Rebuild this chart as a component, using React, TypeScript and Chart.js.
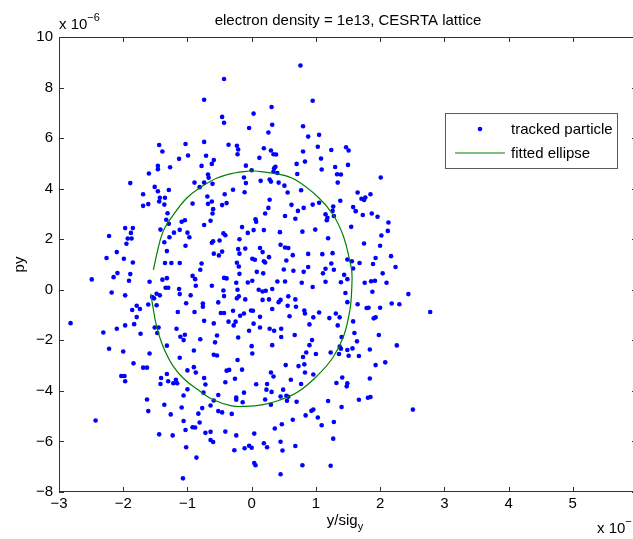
import React, { useEffect, useRef } from "react";
import { Chart, registerables } from "chart.js";

Chart.register(...registerables);

// ---- axis ranges (x in units of the bottom-right exponent, y in units of 1e-6) ----
const X_MIN = -3;
const X_MAX = 6;
const X_STEP = 1;
const Y_MIN = -8;
const Y_MAX = 10;
const Y_STEP = 2;

const titleText = "electron density = 1e13, CESRTA lattice";
const xLabelMain = "y/sig";
const xLabelSub = "y";
const yLabelText = "py";
const yExponent = "\u22126";
const xExponent = "\u2212";
const legendLabels = ["tracked particle", "fitted ellipse"];

// ---- tracked particles, [y/sig_y, py] ----
const upperLeft: [number, number][] = [
  [-0.43, 8.34], [-0.74, 7.52], [-0.46, 6.84], [-0.43, 6.61], [-0.04, 6.40], [-1.44, 5.73],
  [-1.03, 5.77], [-0.74, 5.85], [-0.36, 5.74], [-0.23, 5.70], [-1.39, 5.47], [-0.99, 5.31],
  [-0.71, 5.30], [-0.21, 5.55], [-0.22, 5.36], [-1.13, 5.18], [-0.59, 5.13], [-0.62, 4.98],
  [-1.46, 4.90], [-1.46, 4.77], [-1.27, 4.85], [-0.78, 4.90], [-0.09, 4.91], [-1.60, 4.60],
  [-0.68, 4.56], [-0.67, 4.43], [-0.12, 4.44], [-1.89, 4.22], [-0.89, 4.24], [-0.74, 4.24],
  [-0.61, 4.19], [-0.09, 4.22], [-1.51, 4.07], [-0.81, 4.06], [-1.46, 3.90], [-1.29, 3.95],
  [-1.69, 3.78], [-1.43, 3.64], [-1.35, 3.64], [-0.69, 3.69], [-0.29, 3.96], [-0.11, 3.86],
  [-1.44, 3.49], [-1.36, 3.37], [-0.62, 3.49], [-0.42, 3.78], [-1.69, 3.32], [-1.61, 3.39],
  [-0.92, 3.41], [-0.68, 3.40], [-0.46, 3.35], [-0.39, 3.43], [-0.60, 3.19], [-1.31, 3.03],
  [-0.61, 3.02], [-1.33, 2.77], [-1.04, 2.75], [-1.09, 2.69], [-0.64, 2.73], [-1.29, 2.61],
  [-0.74, 2.56], [-1.97, 2.44], [-1.85, 2.44], [-1.42, 2.38], [-1.12, 2.37], [-0.15, 2.48],
  [-2.22, 2.13], [-1.88, 2.25], [-1.21, 2.26], [-1.00, 2.26], [-0.44, 2.23], [-0.06, 2.25],
  [-1.93, 2.03], [-1.87, 2.03], [-1.28, 2.08], [-0.97, 2.08], [-0.41, 2.16], [-0.19, 2.00],
  [-1.95, 1.82], [-1.36, 1.88], [-0.62, 1.86], [-0.60, 1.92], [-0.50, 1.95], [-1.03, 1.74],
  [-0.21, 1.61], [-0.10, 1.63], [-2.10, 1.49], [-1.32, 1.53], [-0.59, 1.43], [-0.46, 1.51],
  [-0.51, 1.36], [-0.19, 1.43], [-2.26, 1.26], [-1.99, 1.23], [-1.85, 1.08], [-1.35, 1.06],
  [-1.25, 1.06], [-1.12, 1.06], [-0.78, 1.04], [-0.23, 1.07], [-0.20, 0.92], [-0.80, 0.79],
  [-2.09, 0.66], [-1.89, 0.62], [-0.19, 0.63],
];

const upperRight: [number, number][] = [
  [0.76, 8.87], [0.95, 7.48], [0.31, 7.23], [0.03, 6.97], [0.32, 6.53], [0.26, 6.22],
  [0.80, 6.47], [0.88, 6.06], [1.05, 6.13], [0.19, 5.60], [0.30, 5.51], [0.34, 5.36],
  [0.38, 5.35], [1.03, 5.66], [1.24, 5.53], [1.47, 5.64], [1.51, 5.51], [0.80, 5.47],
  [0.12, 5.22], [0.83, 5.07], [1.08, 5.19], [0.70, 4.98], [0.37, 4.87], [0.35, 4.81],
  [0.00, 4.73], [1.09, 4.76], [1.30, 4.86], [1.50, 4.94], [0.34, 4.68], [0.40, 4.62],
  [0.71, 4.58], [1.33, 4.57], [1.39, 4.56], [2.01, 4.44], [0.14, 4.31], [0.28, 4.36],
  [0.30, 4.28], [0.42, 4.24], [0.51, 4.12], [1.34, 4.24], [0.56, 3.85], [0.77, 3.94],
  [1.65, 3.85], [1.85, 3.78], [0.28, 3.56], [0.62, 3.36], [0.95, 3.37], [1.05, 3.44],
  [1.38, 3.52], [1.71, 3.60], [1.75, 3.55], [1.77, 3.65], [0.26, 3.24], [0.72, 3.12],
  [0.81, 3.24], [1.27, 3.29], [1.58, 3.27], [1.62, 3.11], [0.21, 3.02], [0.52, 2.92],
  [1.15, 2.99], [1.26, 3.12], [1.28, 2.92], [1.73, 2.96], [1.87, 3.02], [1.96, 2.89],
  [0.06, 2.79], [0.07, 2.69], [0.68, 2.81], [1.18, 2.85], [1.17, 2.75], [2.13, 2.66],
  [0.03, 2.36], [0.19, 2.36], [0.44, 2.28], [0.79, 2.30], [0.99, 2.38], [1.55, 2.49],
  [2.12, 2.33], [2.02, 2.15], [1.19, 2.04], [0.45, 1.78], [0.52, 1.67], [0.57, 1.65],
  [1.75, 1.83], [2.00, 1.74], [0.13, 1.65], [0.17, 1.49], [0.64, 1.37], [0.88, 1.42],
  [1.10, 1.41], [1.26, 1.45], [2.17, 1.33], [1.93, 1.26], [0.01, 1.23], [0.05, 1.19],
  [0.19, 1.13], [0.21, 1.08], [0.27, 1.29], [0.54, 1.16], [1.49, 1.20], [1.56, 1.13],
  [1.68, 1.06], [1.89, 1.02], [1.24, 1.04], [0.88, 0.90], [0.50, 0.80], [0.65, 0.75],
  [0.81, 0.71], [1.15, 0.83], [1.28, 0.79], [1.58, 0.84], [2.24, 0.90], [2.04, 0.65],
  [0.08, 0.71], [0.18, 0.65], [1.11, 0.65], [1.44, 0.59],
];

const lowerLeft: [number, number][] = [
  [-2.15, 0.50], [-2.49, 0.41], [-1.91, 0.36], [-1.59, 0.32], [-1.39, 0.40], [-1.32, 0.46],
  [-0.92, 0.55], [-0.88, 0.42], [-0.43, 0.47], [-0.39, 0.45], [-0.24, 0.28], [-0.06, 0.29],
  [-1.34, 0.08], [-1.30, 0.08], [-1.13, 0.03], [-0.87, 0.16], [-0.62, 0.16], [-0.44, -0.03],
  [-0.22, 0.00], [-2.18, -0.11], [-1.48, -0.16], [-1.43, -0.22], [-1.12, -0.17], [-0.95, -0.22],
  [-1.97, -0.22], [-1.55, -0.29], [-1.52, -0.34], [-0.43, -0.25], [-0.23, -0.34], [-0.20, -0.26],
  [-0.10, -0.38], [-1.61, -0.58], [-1.48, -0.61], [-1.02, -0.53], [-0.76, -0.54], [-0.76, -0.67],
  [-0.52, -0.50], [-1.79, -0.63], [-1.74, -0.76], [-1.86, -0.80], [-1.79, -1.08], [-1.15, -0.88],
  [-0.89, -0.88], [-0.48, -0.92], [-0.43, -0.92], [-0.29, -0.83], [-0.12, -0.94], [-0.18, -1.03],
  [-2.82, -1.32], [-1.97, -1.41], [-1.83, -1.36], [-2.10, -1.54], [-2.31, -1.69], [-1.73, -1.74],
  [-1.51, -1.49], [-1.45, -1.49], [-1.47, -1.71], [-1.17, -1.54], [-1.11, -1.86], [-1.04, -1.78],
  [-1.06, -1.99], [-0.74, -1.23], [-0.59, -1.33], [-0.36, -1.26], [-0.28, -1.41], [-0.25, -1.26],
  [-0.04, -1.62], [-0.54, -1.81], [-0.21, -1.89], [-0.80, -1.96], [-0.57, -2.08], [-2.22, -2.33],
  [-2.00, -2.44], [-1.32, -2.21], [-0.90, -2.40], [-1.59, -2.52], [-0.59, -2.57], [-0.54, -2.60],
  [-0.22, -2.78], [-1.12, -2.69], [-1.84, -2.91], [-1.69, -3.08], [-1.63, -3.08], [-0.90, -3.06],
  [-1.00, -3.19], [-0.87, -3.27], [-0.39, -3.20], [-0.35, -3.17], [-0.15, -3.16], [-2.03, -3.41],
  [-1.98, -3.41], [-1.97, -3.62], [-1.41, -3.49], [-1.32, -3.33], [-1.30, -3.62], [-1.42, -3.73],
  [-1.22, -3.70], [-1.16, -3.70], [-1.18, -3.56], [-0.74, -3.49], [-0.72, -3.75], [-0.41, -3.66],
  [-0.26, -3.52], [-1.00, -3.94], [-1.06, -4.18], [-0.75, -4.07], [-0.52, -4.16], [-0.24, -4.26],
  [-0.24, -4.35], [-0.12, -4.07], [-0.14, -4.45], [-0.59, -4.38], [-0.64, -4.58], [-1.63, -4.34],
  [-1.61, -4.80], [-1.36, -4.55], [-1.26, -4.93], [-1.09, -4.66], [-0.77, -4.68], [-0.83, -4.90],
  [-0.52, -4.80], [-0.46, -4.85], [-0.31, -4.91], [-2.43, -5.17], [-1.06, -5.19], [-0.92, -5.44],
  [-0.88, -5.45], [-0.81, -5.25], [-1.03, -5.55], [-1.44, -5.72], [-1.23, -5.76], [-0.72, -5.66],
  [-0.64, -5.62], [-0.41, -5.61], [-0.24, -5.76], [-0.64, -5.94], [-0.60, -6.02], [-0.27, -6.35],
  [-0.11, -6.27], [-0.04, -6.17], [-1.02, -6.23], [-0.86, -6.64], [-1.07, -7.46],
];

const lowerRight: [number, number][] = [
  [1.49, 0.42], [0.01, 0.36], [0.40, 0.33], [0.52, 0.33], [0.78, 0.28], [1.15, 0.32],
  [1.39, 0.30], [1.76, 0.28], [1.86, 0.34], [1.92, 0.36], [2.10, 0.28], [0.95, 0.11],
  [0.11, 0.00], [0.17, -0.07], [0.22, -0.04], [0.32, 0.03], [1.46, -0.13], [1.88, -0.08],
  [2.44, -0.17], [0.17, -0.40], [0.27, -0.38], [0.42, -0.49], [0.45, -0.40], [0.57, -0.26],
  [0.68, -0.38], [0.56, -0.63], [0.69, -0.67], [1.49, -0.49], [1.65, -0.57], [1.79, -0.72],
  [1.82, -0.71], [2.00, -0.71], [2.18, -0.54], [2.30, -0.57], [2.78, -0.88], [-0.01, -0.82],
  [0.02, -0.83], [0.32, -0.76], [0.82, -0.82], [0.83, -0.94], [1.05, -0.90], [1.31, -0.94],
  [0.13, -1.07], [0.59, -1.05], [0.96, -1.09], [1.21, -1.12], [1.37, -1.09], [1.90, -1.13],
  [1.93, -1.09], [1.58, -1.25], [0.03, -1.34], [0.13, -1.49], [0.28, -1.54], [0.35, -1.62],
  [0.46, -1.54], [0.90, -1.37], [1.34, -1.41], [0.67, -1.79], [0.46, -1.87], [1.60, -1.71],
  [1.98, -1.79], [1.40, -1.87], [0.94, -1.99], [1.64, -2.04], [0.00, -2.23], [0.32, -2.19],
  [0.90, -2.19], [1.37, -2.25], [1.39, -2.33], [1.49, -2.38], [1.57, -2.32], [1.84, -2.36],
  [2.26, -2.20], [0.85, -2.48], [1.00, -2.54], [1.23, -2.48], [1.36, -2.54], [1.51, -2.61],
  [1.67, -2.62], [0.01, -2.52], [0.80, -2.66], [2.08, -2.87], [0.53, -2.98], [0.73, -3.02],
  [0.82, -2.95], [1.93, -2.98], [0.30, -3.27], [0.34, -3.43], [0.83, -3.27], [0.96, -3.35],
  [1.41, -3.47], [0.61, -3.56], [1.84, -3.51], [0.07, -3.74], [0.24, -3.73], [0.77, -3.73],
  [1.32, -3.69], [1.49, -3.70], [1.48, -3.82], [0.23, -3.95], [0.31, -4.04], [0.49, -3.95],
  [0.45, -4.22], [0.54, -4.19], [0.57, -4.23], [0.55, -4.39], [0.70, -4.43], [0.21, -4.34],
  [0.30, -4.55], [1.19, -4.40], [1.40, -4.64], [1.67, -4.35], [1.81, -4.27], [1.85, -4.24],
  [2.51, -4.74], [0.84, -4.97], [0.93, -4.79], [0.96, -4.74], [1.03, -5.05], [0.64, -5.14],
  [1.09, -5.36], [1.28, -5.23], [0.47, -5.32], [0.36, -5.49], [0.04, -5.69], [1.27, -5.89],
  [0.45, -6.01], [0.68, -6.18], [0.00, -6.25], [0.19, -6.07], [0.24, -6.23], [0.48, -6.36],
  [0.04, -6.85], [0.06, -6.94], [0.79, -6.94], [1.23, -6.96], [0.45, -7.30],
];

// ---- fitted ellipse outline (open on the left side) ----
const ellipseX = [
  -1.57, -1.53, -1.48, -1.38, -1.22, -1.04, -0.80, -0.60, -0.31, -0.10, 0.16, 0.42,
  0.73, 1.01, 1.26, 1.43, 1.53, 1.56, 1.56, 1.53, 1.43, 1.27, 1.04, 0.68, 0.42, 0.05,
  -0.03, -0.29, -0.54, -0.80, -1.01, -1.22, -1.38, -1.48, -1.53,
];
const ellipseY = [
  -0.16, -0.79, -1.45, -2.24, -3.03, -3.56, -4.02, -4.35, -4.59, -4.61, -4.55, -4.38,
  -4.02, -3.43, -2.70, -1.85, -0.79, 0.13, 0.71, 1.12, 2.11, 2.96, 3.65, 4.35, 4.57, 4.70,
  4.70, 4.61, 4.42, 4.04, 3.63, 2.96, 2.30, 1.38, 0.79,
];

// ---- styling ----
const FONT = "'Liberation Sans', Arial, Helvetica, sans-serif";
const FONT_SIZE = 15;
const SUP_SIZE = 11;
const BLUE = "#0000ff";
const GREEN = "#008000";
const AXIS_COLOR = "#333333";
const TICK_LEN = 5;
const DOT_RADIUS = 2.3;

const CANVAS_W = 680;
const CANVAS_H = 539;
const AREA = { left: 59, top: 37, right: 637, bottom: 492 };

const minusSign = (v: number) => String(v).replace("-", "\u2212");

function drawWithScript(
  ctx: CanvasRenderingContext2D,
  main: string,
  script: string,
  x: number,
  y: number,
  shift: number,
) {
  ctx.font = `${FONT_SIZE}px ${FONT}`;
  ctx.fillText(main, x, y);
  const w = ctx.measureText(main).width;
  ctx.font = `${SUP_SIZE}px ${FONT}`;
  ctx.fillText(script, x + w, y + shift);
}

const decorations = {
  id: "matlabDecorations",
  afterDraw(chart: any) {
    const { ctx, chartArea: a, scales } = chart;
    const xs = scales.x;
    const ys = scales.y;
    ctx.save();

    // axes box
    ctx.strokeStyle = AXIS_COLOR;
    ctx.lineWidth = 1;
    ctx.strokeRect(a.left + 0.5, a.top + 0.5, a.right - a.left - 1, a.bottom - a.top - 1);

    // inward tick marks on all four sides
    ctx.beginPath();
    xs.ticks.forEach((t: any) => {
      const p = Math.round(xs.getPixelForValue(t.value)) + 0.5;
      ctx.moveTo(p, a.bottom);
      ctx.lineTo(p, a.bottom - TICK_LEN);
      ctx.moveTo(p, a.top);
      ctx.lineTo(p, a.top + TICK_LEN);
    });
    ys.ticks.forEach((t: any) => {
      const p = Math.round(ys.getPixelForValue(t.value)) + 0.5;
      ctx.moveTo(a.left, p);
      ctx.lineTo(a.left + TICK_LEN, p);
      ctx.moveTo(a.right, p);
      ctx.lineTo(a.right - TICK_LEN, p);
    });
    ctx.stroke();

    ctx.fillStyle = "#000";
    ctx.textBaseline = "alphabetic";

    // title
    ctx.font = `${FONT_SIZE}px ${FONT}`;
    ctx.textAlign = "center";
    ctx.fillText(titleText, (a.left + a.right) / 2, 25);

    // x axis label with subscript
    ctx.textAlign = "left";
    ctx.font = `${FONT_SIZE}px ${FONT}`;
    const mainW = ctx.measureText(xLabelMain).width;
    ctx.font = `${SUP_SIZE}px ${FONT}`;
    const subW = ctx.measureText(xLabelSub).width;
    const xlStart = (a.left + a.right) / 2 - (mainW + subW) / 2 - 3;
    drawWithScript(ctx, xLabelMain, xLabelSub, xlStart, 525, 5);

    // y axis label
    ctx.save();
    ctx.translate(24, (a.top + a.bottom) / 2);
    ctx.rotate(-Math.PI / 2);
    ctx.font = `${FONT_SIZE}px ${FONT}`;
    ctx.textAlign = "center";
    ctx.fillText(yLabelText, 0, 0);
    ctx.restore();

    // exponent multipliers
    ctx.textAlign = "left";
    drawWithScript(ctx, "x 10", yExponent, a.left, 29, -8);
    drawWithScript(ctx, "x 10", xExponent, 597, 533, -8);

    // legend
    const lx = 445, ly = 113, lw = 172, lh = 55;
    ctx.fillStyle = "#ffffff";
    ctx.fillRect(lx, ly, lw, lh);
    ctx.strokeStyle = "#5c5c5c";
    ctx.strokeRect(lx + 0.5, ly + 0.5, lw, lh);
    ctx.fillStyle = BLUE;
    ctx.beginPath();
    ctx.arc(480, 129, DOT_RADIUS, 0, Math.PI * 2);
    ctx.fill();
    ctx.strokeStyle = GREEN;
    ctx.lineWidth = 1.2;
    ctx.beginPath();
    ctx.moveTo(455, 153);
    ctx.lineTo(505, 153);
    ctx.stroke();
    ctx.fillStyle = "#000";
    ctx.font = `${FONT_SIZE}px ${FONT}`;
    ctx.textBaseline = "middle";
    ctx.fillText(legendLabels[0], 511, 130);
    ctx.fillText(legendLabels[1], 511, 154);

    ctx.restore();
  },
};

export default function App() {
  const canvasRef = useRef<HTMLCanvasElement | null>(null);

  useEffect(() => {
    const canvas = canvasRef.current;
    if (!canvas) return;
    const particles = [...upperLeft, ...upperRight, ...lowerLeft, ...lowerRight].map(([x, y]) => ({ x, y }));
    const ellipse = ellipseX.map((x, i) => ({ x, y: ellipseY[i] }));
    const tickFont = { family: FONT, size: FONT_SIZE };

    const chart = new Chart(canvas, {
      type: "scatter",
      data: {
        datasets: [
          {
            label: legendLabels[1],
            data: ellipse,
            showLine: true,
            borderColor: GREEN,
            borderWidth: 1.2,
            pointRadius: 0,
            tension: 0.4,
            fill: false,
          } as any,
          {
            label: legendLabels[0],
            data: particles,
            pointRadius: DOT_RADIUS,
            pointBackgroundColor: BLUE,
            pointBorderWidth: 0,
            borderWidth: 0,
          } as any,
        ],
      },
      options: {
        animation: false,
        responsive: false,
        devicePixelRatio: 1,
        events: [],
        layout: {
          padding: { left: 0, top: AREA.top, right: CANVAS_W - AREA.right, bottom: 0 },
        },
        plugins: {
          legend: { display: false },
          tooltip: { enabled: false },
          title: { display: false },
        },
        scales: {
          x: {
            type: "linear",
            min: X_MIN,
            max: X_MAX,
            afterFit: (s: any) => {
              s.height = CANVAS_H - AREA.bottom;
            },
            grid: { display: false, drawTicks: false },
            border: { display: false },
            ticks: {
              stepSize: X_STEP,
              padding: 3,
              color: "#000",
              font: tickFont,
              maxRotation: 0,
              autoSkip: false,
              callback: (v: any) => minusSign(Number(v)),
            },
          },
          y: {
            type: "linear",
            min: Y_MIN,
            max: Y_MAX,
            afterFit: (s: any) => {
              s.width = AREA.left;
            },
            grid: { display: false, drawTicks: false },
            border: { display: false },
            ticks: {
              stepSize: Y_STEP,
              padding: 6,
              color: "#000",
              font: tickFont,
              autoSkip: false,
              callback: (v: any) => minusSign(Number(v)),
            },
          },
        },
      } as any,
      plugins: [decorations],
    });

    return () => chart.destroy();
  }, []);

  return (
    <div
      style={{
        position: "fixed",
        left: 0,
        top: 0,
        width: 633,
        height: 539,
        overflow: "hidden",
        background: "#ffffff",
      }}
    >
      <canvas
        ref={canvasRef}
        width={CANVAS_W}
        height={CANVAS_H}
        style={{ display: "block", width: CANVAS_W, height: CANVAS_H }}
      />
    </div>
  );
}
